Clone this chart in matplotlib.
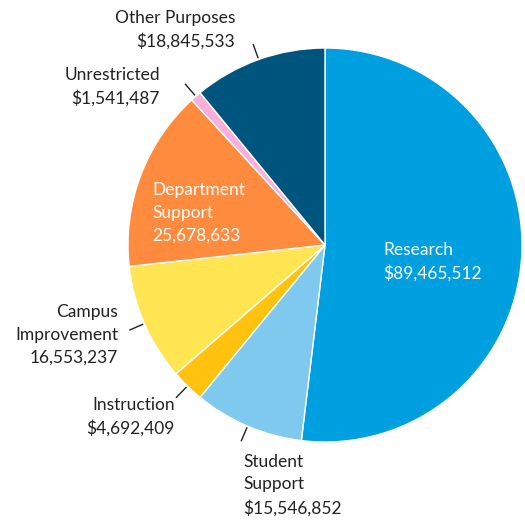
import numpy as np
import matplotlib
matplotlib.use('Agg')
import matplotlib.pyplot as plt

plt.rcParams['font.family'] = ['Lato', 'DejaVu Sans']

# slices, clockwise from 12 o'clock
categories = ['Research', 'Student Support', 'Instruction', 'Campus Improvement',
              'Department Support', 'Unrestricted', 'Other Purposes']
amounts = [89465512, 15546852, 4692409, 16553237, 25678633, 1541487, 18845533]
label_text = [
    'Research\n$89,465,512',
    'Student\nSupport\n$15,546,852',
    'Instruction\n$4,692,409',
    'Campus\nImprovement\n16,553,237',
    'Department\nSupport\n25,678,633',
    'Unrestricted\n$1,541,487',
    'Other Purposes\n$18,845,533',
]
colors = ['#009fdf', '#7fc9ee', '#ffc20e', '#ffe552', '#ff8b3f', '#f9aedb', '#00557f']

# label placement (pixel-ish coordinates of the 525x520 canvas, y up)
label_pos = [(383, 258), (243, 35), (175, 103), (118, 185), (152, 307), (160, 433), (235, 490)]
label_ha = ['left', 'left', 'right', 'right', 'left', 'right', 'right']
inside = [True, False, False, False, True, False, False]

CX, CY, R = 325, 275, 197

fig = plt.figure(figsize=(5.25, 5.2), dpi=100)
ax = fig.add_axes([0, 0, 1, 1])
wedges, _ = ax.pie(amounts, colors=colors, startangle=90, counterclock=False,
                   center=(CX, CY), radius=R, frame=True,
                   wedgeprops=dict(edgecolor='white', linewidth=1))

for w, txt, pos, ha, ins in zip(wedges, label_text, label_pos, label_ha, inside):
    ax.text(pos[0], pos[1], txt, ha=ha, va='center', fontsize=12.5,
            linespacing=1.52, color='white' if ins else '#222222')
    if not ins:
        ang = np.deg2rad((w.theta1 + w.theta2) / 2)
        r0, r1 = R * 1.01, R * 1.08
        ax.plot([CX + r0 * np.cos(ang), CX + r1 * np.cos(ang)],
                [CY + r0 * np.sin(ang), CY + r1 * np.sin(ang)],
                color='#222222', lw=1)

ax.set_xlim(0, 525)
ax.set_ylim(0, 520)
ax.set_aspect('equal')
ax.axis('off')

fig.savefig('out.png', dpi=100)
